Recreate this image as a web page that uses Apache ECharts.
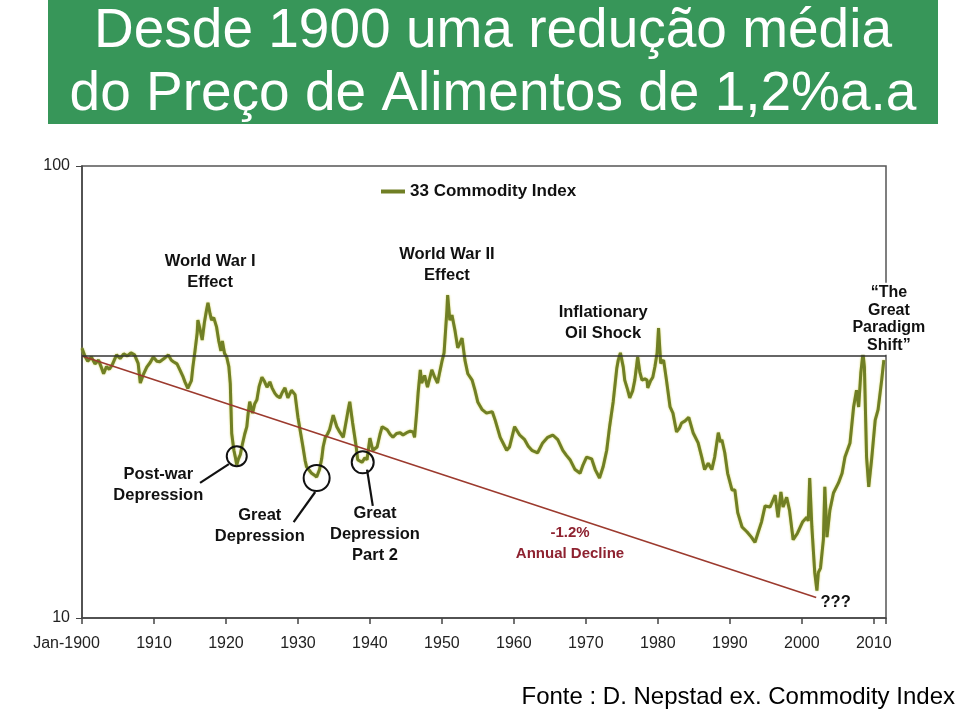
<!DOCTYPE html>
<html><head><meta charset="utf-8">
<script src="https://cdn.jsdelivr.net/npm/echarts@6/dist/echarts.min.js"></script>
<style>html,body{margin:0;padding:0;background:#fff}#c{width:959px;height:712px}</style>
</head><body><div id="c"></div>
<script>
// ---- data ----
const years = [1900.0,1900.4,1900.8,1901.3,1901.8,1902.3,1902.7,1903.0,1903.4,1903.8,1904.2,1904.8,1905.3,1905.8,1906.3,1906.8,1907.3,1907.8,1908.1,1908.5,1909.0,1909.5,1909.9,1910.4,1910.8,1911.4,1912.0,1912.4,1912.7,1913.2,1913.6,1914.0,1914.3,1914.7,1914.9,1915.2,1915.4,1915.7,1916.0,1916.1,1916.4,1916.7,1917.0,1917.3,1917.5,1917.8,1918.0,1918.3,1918.7,1919.0,1919.3,1919.5,1919.8,1920.1,1920.4,1920.6,1920.8,1921.1,1921.3,1921.5,1921.7,1922.0,1922.2,1922.6,1922.9,1923.1,1923.3,1923.7,1924.0,1924.3,1924.6,1925.0,1925.3,1925.7,1926.1,1926.4,1926.8,1927.1,1927.5,1927.8,1928.2,1928.6,1929.1,1929.6,1930.0,1930.4,1930.7,1931.0,1931.2,1931.6,1931.9,1932.3,1932.6,1933.0,1933.3,1933.5,1933.8,1934.1,1934.4,1934.9,1935.4,1935.8,1936.3,1936.8,1937.0,1937.2,1937.6,1938.1,1938.3,1938.9,1939.3,1939.6,1940.0,1940.4,1941.0,1941.4,1941.7,1942.4,1942.8,1943.2,1943.7,1944.2,1944.6,1945.1,1945.6,1946.0,1946.2,1946.5,1946.7,1947.0,1947.2,1947.6,1948.0,1948.6,1949.0,1949.4,1949.7,1950.0,1950.3,1950.5,1950.7,1950.8,1951.1,1951.4,1951.8,1952.2,1952.5,1952.8,1953.2,1953.6,1954.2,1954.6,1955.0,1955.6,1956.2,1956.6,1957.0,1957.4,1958.1,1958.6,1959.0,1959.4,1960.1,1960.8,1961.5,1962.0,1962.5,1963.3,1964.0,1964.7,1965.4,1966.1,1966.8,1967.3,1967.8,1968.5,1969.2,1969.6,1970.1,1970.8,1971.3,1971.9,1972.4,1972.9,1973.3,1973.8,1974.3,1974.5,1974.8,1975.2,1975.4,1975.8,1976.1,1976.5,1976.8,1977.2,1977.5,1977.8,1978.2,1978.5,1978.6,1979.0,1979.3,1979.6,1979.9,1980.1,1980.4,1980.8,1981.2,1981.7,1982.1,1982.6,1983.0,1983.3,1983.8,1984.3,1984.9,1985.6,1986.1,1986.5,1987.0,1987.5,1987.9,1988.4,1988.7,1988.9,1989.3,1989.7,1990.3,1990.7,1991.1,1991.7,1992.4,1993.0,1993.5,1993.9,1994.4,1994.9,1995.6,1996.3,1996.7,1997.1,1997.4,1997.9,1998.3,1998.8,1999.4,2000.1,2000.7,2000.9,2001.1,2001.4,2001.8,2002.1,2002.3,2002.6,2003.0,2003.2,2003.5,2003.9,2004.4,2005.1,2005.6,2006.0,2006.7,2007.2,2007.6,2007.9,2008.2,2008.5,2008.7,2009.0,2009.3,2009.7,2010.2,2010.6,2011.1,2011.4];
const values = [39.5,38.0,37.0,37.8,36.5,37.2,35.8,34.7,36.0,35.5,36.3,38.2,37.5,38.4,38.0,38.6,38.2,36.6,33.1,34.5,35.9,36.8,37.8,37.0,36.9,37.5,38.2,37.2,36.9,36.5,35.4,34.3,33.3,32.2,31.9,33.5,35.9,39.0,42.7,45.6,43.5,41.2,45.0,48.0,49.8,47.0,45.6,46.2,44.0,41.0,39.0,41.0,38.5,37.8,36.0,33.0,25.6,23.5,22.7,21.8,22.4,23.0,23.9,25.5,26.5,28.5,30.1,28.4,29.8,30.4,32.5,34.1,33.5,32.4,33.3,32.3,31.4,31.0,30.7,31.5,32.3,30.7,31.9,31.2,27.8,25.5,23.9,22.3,21.6,21.2,20.9,20.7,20.5,21.3,22.5,23.9,25.1,25.5,26.1,28.1,26.5,25.8,25.1,27.8,29.0,30.1,27.0,23.9,22.4,22.1,22.6,22.4,25.0,23.5,23.9,25.5,26.5,26.1,25.5,25.1,25.6,25.7,25.4,25.7,25.9,25.8,25.1,28.5,31.5,35.4,33.1,34.4,32.4,35.4,34.1,33.1,35.0,36.9,38.6,43.0,48.0,51.8,45.6,46.8,43.4,39.6,40.5,41.6,37.2,34.7,33.6,31.9,30.0,28.9,28.4,28.5,28.6,27.4,25.1,24.2,23.5,23.9,26.5,25.4,24.8,24.0,23.5,23.2,24.4,25.1,25.4,24.8,23.5,22.9,22.4,21.3,20.9,21.8,22.7,22.5,21.3,20.4,21.6,23.5,26.5,30.1,35.7,37.2,38.6,35.9,33.6,32.0,30.7,31.8,33.6,37.8,35.0,33.6,33.8,33.6,32.3,33.5,34.1,36.0,38.6,43.8,36.6,37.2,33.6,29.3,28.4,25.8,26.3,27.0,27.3,27.8,25.7,24.4,22.7,21.3,22.0,21.3,22.7,25.7,24.5,24.8,23.2,20.9,19.2,19.2,17.1,15.9,15.5,15.1,14.7,15.4,16.3,17.7,17.6,18.7,16.7,19.0,17.6,18.5,17.3,14.9,15.4,16.3,16.7,16.4,20.4,15.9,12.6,11.5,12.6,12.9,14.9,19.5,15.1,17.3,18.9,19.9,20.9,22.7,24.4,29.3,31.9,29.3,34.8,38.6,35.9,22.7,19.5,22.4,27.4,28.9,33.6,37.2];
const seriesName = '33 Commodity Index';
const trendYears = [1900, 2002];
const trendValues = [38, 11.1];
const refLevel = 38;
const xMin = 1900, xMax = 2011.7, xStep = 10;
const firstTickLabel = 'Jan-1900';
const circleYears = [1921.5, 1932.6, 1939.0];
const circleValues = [22.8, 20.4, 22.1];
const leaderFrom = [[1916.4, 19.9], [1929.4, 16.3], [1940.4, 17.7]];
const leaderTo = [[1920.4, 21.9], [1932.4, 19.0], [1939.6, 21.3]];
const noteTexts = ['World War I\nEffect', 'World War II\nEffect', 'Inflationary\nOil Shock',
  '\u201CThe\nGreat\nParadigm\nShift\u201D', 'Post-war\nDepression', 'Great\nDepression',
  'Great\nDepression\nPart 2', '-1.2%\nAnnual Decline', '???'];
const noteYears = [1917.8, 1950.7, 1972.4, 2012.1, 1910.6, 1924.7, 1940.7, 1967.8, 2004.7];
const noteValues = [58.4, 60.5, 44.9, 45.9, 19.7, 15.98, 15.3, 14.6, 10.8];

// ---- chart ----
const FONT = 'Liberation Sans, Arial, sans-serif';
const chart = echarts.init(document.getElementById('c'), null, {renderer: 'canvas'});
const circleSizes = [20, 26, 22];
const noteStyles = noteTexts.map((t, i) => {
  if (i === 3) return {fontSize: 16, lineHeight: 17.5, backgroundColor: '#fff', padding: [1, 2]};
  if (i === 7) return {fontSize: 15, lineHeight: 21, color: '#8e2230'};
  return {fontSize: 16.5, lineHeight: 21};
});
chart.setOption({
  animation: false,
  backgroundColor: '#fff',
  grid: {left: 82, top: 166, right: 73, bottom: 94, show: true, borderColor: '#555', borderWidth: 1.5},
  graphic: [
    {type: 'rect', shape: {x: 48, y: 0, width: 890, height: 124}, style: {fill: '#379659'}, z: 0},
    {type: 'text', x: 493, y: 32, style: {text: 'Desde 1900 uma redução média', fill: '#fff',
      font: '55px ' + FONT, textAlign: 'center', textVerticalAlign: 'middle'}},
    {type: 'text', x: 493, y: 95, style: {text: 'do Preço de Alimentos de 1,2%a.a', fill: '#fff',
      font: '55px ' + FONT, textAlign: 'center', textVerticalAlign: 'middle'}},
    {type: 'text', x: 955, y: 697, style: {text: 'Fonte : D. Nepstad ex. Commodity Index', fill: '#000',
      font: '24px ' + FONT, textAlign: 'right', textVerticalAlign: 'middle'}}
  ],
  legend: {
    data: [seriesName], left: 376, top: 178, icon: 'rect', itemWidth: 24, itemHeight: 4, itemGap: 6,
    textStyle: {fontFamily: FONT, fontSize: 17, fontWeight: 'bold', color: '#111'}
  },
  xAxis: {
    type: 'value', min: xMin, max: xMax, interval: xStep,
    splitLine: {show: false},
    axisLine: {show: true, lineStyle: {color: '#444', width: 1.5}},
    axisTick: {show: true, length: 6, lineStyle: {color: '#444', width: 1.5}},
    axisLabel: {
      margin: 18, color: '#222', fontFamily: FONT, fontSize: 16,
      formatter: v => {
        if (Math.abs(v - xMin) < 1e-6) return '{j|' + firstTickLabel + '}';
        if (Math.abs(v % xStep) > 1e-6) return '';
        return String(Math.round(v));
      },
      rich: {j: {fontFamily: FONT, fontSize: 16, color: '#222', padding: [0, 31, 0, 0]}}
    }
  },
  yAxis: {
    type: 'log', logBase: 10, min: 10, max: 100,
    splitLine: {show: false},
    axisLine: {show: true, lineStyle: {color: '#444', width: 1.5}},
    axisTick: {show: true, length: 6, lineStyle: {color: '#444', width: 1}},
    minorTick: {show: false},
    axisLabel: {margin: 12, color: '#222', fontFamily: FONT, fontSize: 16}
  },
  series: [
    {
      name: 'trend', type: 'line', silent: true, symbol: 'none', z: 3,
      data: trendYears.map((y, i) => [y, trendValues[i]]),
      lineStyle: {color: '#9c3a2e', width: 1.6},
      markLine: {
        silent: true, symbol: 'none', label: {show: false},
        lineStyle: {color: '#333', width: 1.5, type: 'solid'},
        data: [{yAxis: refLevel}]
      }
    },
    {
      name: seriesName, type: 'line', symbol: 'none', z: 2,
      data: years.map((y, i) => [y, values[i]]),
      itemStyle: {color: '#707f25'},
      lineStyle: {color: '#707f25', width: 3, shadowColor: 'rgba(205,205,70,0.9)', shadowBlur: 2}
    },
    {
      name: 'circles', type: 'scatter', silent: true, z: 5,
      data: circleYears.map((y, i) => ({value: [y, circleValues[i]], symbolSize: circleSizes[i]})),
      symbol: 'circle',
      itemStyle: {color: 'rgba(0,0,0,0)', borderColor: '#111', borderWidth: 2, opacity: 1}
    },
    {
      name: 'leaders', type: 'lines', coordinateSystem: 'cartesian2d', silent: true, z: 5,
      data: leaderFrom.map((p, i) => ({coords: [p, leaderTo[i]]})),
      lineStyle: {color: '#111', width: 2.2, opacity: 1}
    },
    {
      name: 'notes', type: 'scatter', silent: true, clip: false, z: 6,
      symbolSize: 1, itemStyle: {color: 'rgba(0,0,0,0)', opacity: 1},
      data: noteTexts.map((t, i) => ({
        value: [noteYears[i], noteValues[i]], name: t,
        label: Object.assign({show: true, position: 'inside', formatter: '{b}', align: 'center',
          verticalAlign: 'middle', fontFamily: FONT, fontWeight: 'bold', color: '#111',
          textBorderWidth: 0}, noteStyles[i])
      }))
    }
  ]
});
</script></body></html>
